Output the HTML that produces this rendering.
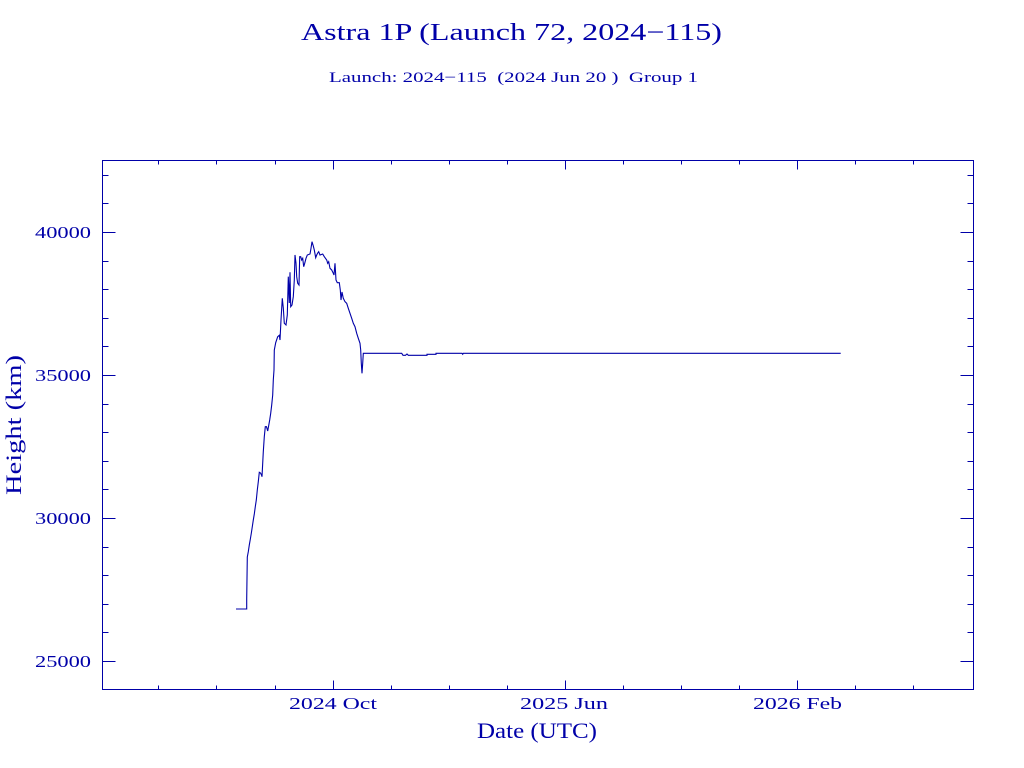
<!DOCTYPE html>
<html>
<head>
<meta charset="utf-8">
<style>
html,body{margin:0;padding:0;background:#fff;}
svg{display:block;}
text{font-family:"Liberation Serif",serif;fill:#0000a8;}
</style>
</head>
<body>
<svg width="1024" height="768" viewBox="0 0 1024 768" xmlns="http://www.w3.org/2000/svg">
<rect width="1024" height="768" fill="#fff"/>
<text x="301" y="40" font-size="24" textLength="421" lengthAdjust="spacingAndGlyphs">Astra 1P (Launch 72, 2024−115)</text>
<text x="329" y="82" font-size="15" textLength="369" lengthAdjust="spacingAndGlyphs" xml:space="preserve">Launch: 2024−115  (2024 Jun 20 )  Group 1</text>

<g stroke="#0000a8" stroke-width="1" fill="none">
<rect x="102.5" y="160.5" width="871" height="529"/>
<!-- bottom x ticks -->
<path d="M158.5 689.5v-4M216.5 689.5v-4M275.5 689.5v-4M391.5 689.5v-4M449.5 689.5v-4M507.5 689.5v-4M623.5 689.5v-4M681.5 689.5v-4M739.5 689.5v-4M855.5 689.5v-4M913.5 689.5v-4M333.5 689.5v-9M565.5 689.5v-9M797.5 689.5v-9"/>
<!-- top x ticks -->
<path d="M158.5 160.5v4M216.5 160.5v4M275.5 160.5v4M391.5 160.5v4M449.5 160.5v4M507.5 160.5v4M623.5 160.5v4M681.5 160.5v4M739.5 160.5v4M855.5 160.5v4M913.5 160.5v4M333.5 160.5v9M565.5 160.5v9M797.5 160.5v9"/>
<!-- left y ticks -->
<path d="M102.5 232.5h13M102.5 375.5h13M102.5 518.5h13M102.5 661.5h13
M102.5 175.5h6M102.5 203.5h6M102.5 261.5h6M102.5 289.5h6M102.5 318.5h6M102.5 346.5h6M102.5 404.5h6M102.5 432.5h6M102.5 461.5h6M102.5 489.5h6M102.5 547.5h6M102.5 575.5h6M102.5 604.5h6M102.5 632.5h6"/>
<!-- right y ticks -->
<path d="M973.5 232.5h-13M973.5 375.5h-13M973.5 518.5h-13M973.5 661.5h-13
M973.5 175.5h-6M973.5 203.5h-6M973.5 261.5h-6M973.5 289.5h-6M973.5 318.5h-6M973.5 346.5h-6M973.5 404.5h-6M973.5 432.5h-6M973.5 461.5h-6M973.5 489.5h-6M973.5 547.5h-6M973.5 575.5h-6M973.5 604.5h-6M973.5 632.5h-6"/>
</g>

<!-- y tick labels -->
<text x="35" y="238" font-size="17" textLength="56" lengthAdjust="spacingAndGlyphs">40000</text>
<text x="35" y="381" font-size="17" textLength="56" lengthAdjust="spacingAndGlyphs">35000</text>
<text x="35" y="524" font-size="17" textLength="56" lengthAdjust="spacingAndGlyphs">30000</text>
<text x="35" y="667" font-size="17" textLength="56" lengthAdjust="spacingAndGlyphs">25000</text>

<!-- x tick labels -->
<text x="289" y="709" font-size="17" textLength="88" lengthAdjust="spacingAndGlyphs">2024 Oct</text>
<text x="520" y="709" font-size="17" textLength="88" lengthAdjust="spacingAndGlyphs">2025 Jun</text>
<text x="753" y="709" font-size="17" textLength="89" lengthAdjust="spacingAndGlyphs">2026 Feb</text>

<!-- axis titles -->
<text x="477" y="738" font-size="22" textLength="120" lengthAdjust="spacingAndGlyphs">Date (UTC)</text>
<text transform="translate(21,495) rotate(-90)" x="0" y="0" font-size="22" textLength="140" lengthAdjust="spacingAndGlyphs">Height (km)</text>

<!-- data -->
<polyline fill="none" stroke="#0000a8" stroke-width="1.1" stroke-linejoin="miter" points="
236,609 246.7,609 246.7,599 247.3,557 248.3,551.7 249.3,545 250.3,539.3 251.3,533.3 252.3,526.7 253.3,520 254.3,514 255.3,506.7 256.3,500 257.3,490 258.3,481.7 259.3,472.3 260.5,473 261.5,475 262,476.7 262.7,463.3 263.3,451.7 264.3,436.7 265.3,426.7 266.5,426.7 267.7,431 268.5,426.7 269.7,420 270.7,413.3 271.7,405 272.7,395 273.3,380 274,370 274.3,350 275.7,342.7 277.7,336.7 279.3,335.3 280,340 281,320 282.3,298.3 283.3,308 284.3,323.3 286,325 287.3,315 288.3,276.7 289.3,303 290,272.3 290.7,306.7 292,305 293.3,296.7 294.3,280 295,255 296,263.3 296.7,276.7 297.7,283.3 299,285 299.7,256.7 300.7,256.7 301.7,260 302.7,258.3 303.7,266.7 304.7,263.3 306,258.3 307.3,255 310,254 311,248.3 312,241.7 313.3,246 314.3,250 315.7,257.7 316.7,255 317.7,253 318.7,251.7 320,255 322.7,254 324.3,256.7 326.7,260 327.7,263.3 328.7,261.7 330,268.3 331.7,270 333.3,273.3 334,275 335,263.3 336,280 337.3,282.7 339.3,282.7 340.3,290 341,300 342,292 343.3,298.3 345,301.7 346.7,303.3 348.3,308.3 350,313.3 351.7,318.3 353.3,323.3 355,326.7 356.7,333.3 358.3,338.3 360,343.3 360.7,350 361.3,363.3 362,373.3 362.7,363.3 363.3,353.3 401.7,353.3 403,355.3 405.5,355.3 407,354 408.3,355.3 427,355.3 427,354.3 436,354.3 436,353.3 462,353.3 462.7,354.3 463.3,353.3 840.7,353.3"/>
</svg>
</body>
</html>
